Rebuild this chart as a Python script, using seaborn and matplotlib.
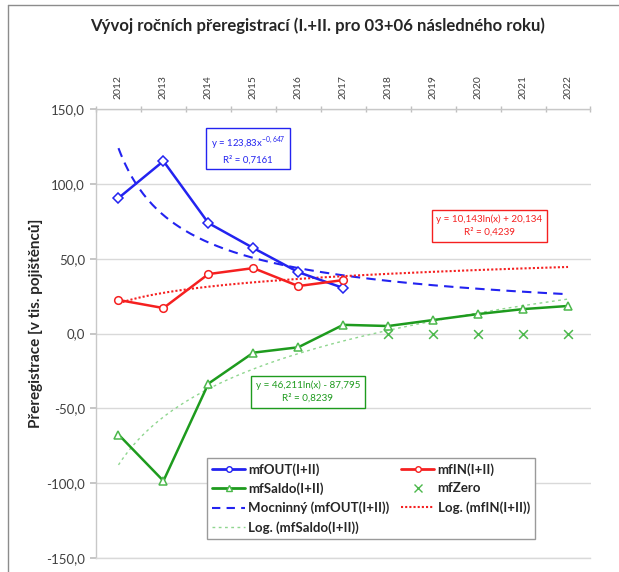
import numpy as np
import pandas as pd
import matplotlib
matplotlib.use("Agg")
import matplotlib.pyplot as plt
from matplotlib.lines import Line2D
from matplotlib.ticker import FixedLocator, FuncFormatter
import seaborn as sns

# data (thousands of insured persons)
years = [2012, 2013, 2014, 2015, 2016, 2017, 2018, 2019, 2020, 2021, 2022]
years_out = [2012, 2013, 2014, 2015, 2016, 2017]
mf_out = [90.5, 115.2, 73.8, 57.1, 41.0, 30.4]
mf_in = [22.4, 17.0, 39.7, 43.7, 31.7, 35.7]
mf_saldo = [-67.5, -98.5, -33.5, -12.8, -9.2, 5.8, 5.0, 9.0, 13.0, 16.3, 18.4]
years_zero = [2018, 2019, 2020, 2021, 2022]
mf_zero = [0, 0, 0, 0, 0]

# trendline coefficients as printed in the chart (x = 1..11)
power_out = [123.83, -0.647]
log_in = [10.143, 20.134]
log_saldo = [46.211, -87.795]

legend_labels = ["mfOUT(I+II)", "mfIN(I+II)", "mfSaldo(I+II)", "mfZero",
                 "Mocninný (mfOUT(I+II))", "Log. (mfIN(I+II))", "Log. (mfSaldo(I+II))"]

BLUE = "#2323f0"
RED = "#f52020"
GREEN = "#1e9b1e"
LGREEN = "#4cb84c"
TGREEN = "#8fd68f"

sns.set_theme(style="white")
plt.rcParams["font.family"] = ["Lato", "DejaVu Sans"]
plt.rcParams["mathtext.fontset"] = "custom"
plt.rcParams["mathtext.rm"] = "Lato"

W, H = 619, 572
fig = plt.figure(figsize=(W / 100, H / 100), dpi=100)
ax = fig.add_axes([96 / W, 1 - 558 / H, (590.5 - 96) / W, (558 - 109) / H])

# trendlines
t = np.linspace(1, 11, 200)
trend_years = 2011 + t
sns.lineplot(x=trend_years, y=power_out[0] * t ** power_out[1], color=BLUE, lw=1.5,
             linestyle=(0, (4.5, 3)), ax=ax, zorder=3)
sns.lineplot(x=trend_years, y=log_in[0] * np.log(t) + log_in[1], color=RED, lw=1.5,
             linestyle=(0, (1, 1)), ax=ax, zorder=3)
sns.lineplot(x=trend_years, y=log_saldo[0] * np.log(t) + log_saldo[1], color=TGREEN, lw=1.0,
             linestyle=(0, (2, 2.5)), ax=ax, zorder=3)

# data series
sns.lineplot(x=years_out, y=mf_out, color=BLUE, lw=1.8, marker="D", markersize=5,
             markerfacecolor="white", markeredgecolor=BLUE, markeredgewidth=1.1, ax=ax, zorder=4)
sns.lineplot(x=years_out, y=mf_in, color=RED, lw=1.8, marker="o", markersize=5.5,
             markerfacecolor="white", markeredgecolor=RED, markeredgewidth=1.1, ax=ax, zorder=4)
sns.lineplot(x=years, y=mf_saldo, color=GREEN, lw=1.8, marker="^", markersize=6,
             markerfacecolor="white", markeredgecolor=LGREEN, markeredgewidth=1.1, ax=ax, zorder=4)
sns.scatterplot(x=years_zero, y=mf_zero, color=LGREEN, marker="x", s=40, linewidth=1.1,
                ax=ax, zorder=5)

# axes
ax.set_xlim(2011.5, 2022.5)
ax.set_ylim(-150, 150)
ax.set_yticks(np.arange(-150, 151, 50))
ax.yaxis.set_major_formatter(FuncFormatter(lambda v, p: f"{v:.1f}".replace(".", ",")))
ax.xaxis.tick_top()
ax.set_xticks(years)
ax.set_xticklabels([str(y) for y in years], rotation=90)
ax.xaxis.set_minor_locator(FixedLocator(np.arange(2011.5, 2023, 1)))
ax.tick_params(axis="x", which="major", length=0, pad=7, labelsize=7.5, colors="#404040")
ax.tick_params(axis="x", which="minor", length=4, direction="inout", color="#bfbfbf", top=True, bottom=False)
ax.tick_params(axis="y", which="major", length=4, direction="out", color="#bfbfbf", left=True,
               labelsize=9.5, labelcolor="#404040", pad=4)
ax.grid(axis="y", color="#d9d9d9", lw=1)
ax.set_axisbelow(True)
ax.spines["right"].set_visible(False)
for s in ["left", "top", "bottom"]:
    ax.spines[s].set_color("#c8c8c8")
    ax.spines[s].set_linewidth(1)
ax.spines["bottom"].set_color("#d9d9d9")
ax.set_xlabel("")
ax.set_ylabel("")

fig.text(36 / W, 1 - 323 / H, "Přeregistrace [v tis. pojištěnců]", rotation=90, ha="center",
         va="center", fontsize=11, fontweight="bold", color="#262626")

fig.text(318 / W, 1 - 26 / H, "Vývoj ročních přeregistrací (I.+II. pro 03+06 následného roku)",
         ha="center", va="center", fontsize=12.1, fontweight="bold", color="#262626")

# trendline equation boxes
box = dict(boxstyle="square,pad=0.45", facecolor="white", lw=1)
fig.text(248 / W, 1 - 150 / H, "y = 123,83x$^{\\mathregular{-0,647}}$\nR² = 0,7161", ha="center",
         va="center", fontsize=6.9, color=BLUE, multialignment="center",
         bbox=dict(box, edgecolor=BLUE), linespacing=1.45)
fig.text(489 / W, 1 - 226 / H, "y = 10,143ln(x) + 20,134\nR² = 0,4239", ha="center",
         va="center", fontsize=7.1, color=RED, multialignment="center",
         bbox=dict(box, edgecolor=RED), linespacing=1.45)
fig.text(308 / W, 1 - 392 / H, "y = 46,211ln(x) - 87,795\nR² = 0,8239", ha="center",
         va="center", fontsize=7.1, color=GREEN, multialignment="center",
         bbox=dict(box, edgecolor=GREEN), linespacing=1.45)

# legend, row-major order like the original
h_out = Line2D([], [], color=BLUE, lw=2, marker="o", markersize=4, markerfacecolor="white")
h_in = Line2D([], [], color=RED, lw=2, marker="o", markersize=4, markerfacecolor="white")
h_saldo = Line2D([], [], color=GREEN, lw=2, marker="^", markersize=4, markerfacecolor="white",
                 markeredgecolor=LGREEN)
h_zero = Line2D([], [], color=LGREEN, lw=0, marker="x", markersize=6)
h_pow = Line2D([], [], color=BLUE, lw=1.5, linestyle=(0, (4, 3)))
h_lin = Line2D([], [], color=RED, lw=1.5, linestyle=(0, (1, 1)))
h_lsal = Line2D([], [], color=TGREEN, lw=1, linestyle=(0, (2, 2.5)))
handles = [h_out, h_saldo, h_pow, h_lsal, h_in, h_zero, h_lin]
labels = [legend_labels[i] for i in [0, 2, 4, 6, 1, 3, 5]]
leg = ax.legend(handles, labels, ncol=2, loc="upper left",
                bbox_to_anchor=((207 - 96) / (590.5 - 96), (558 - 458) / (558 - 109)),
                frameon=True, fancybox=False, edgecolor="#9a9a9a", framealpha=1,
                prop={"weight": "bold", "size": 9.5}, handlelength=2.5, handletextpad=0.25,
                columnspacing=0.9, labelspacing=0.5, borderpad=0.38, borderaxespad=0)
leg.get_frame().set_linewidth(1)
for txt in leg.get_texts():
    txt.set_color("#262626")

# outer chart frame (left/top edges visible)
fig.add_artist(Line2D([8 / W, 8 / W], [0, 1 - 5 / H], color="#8c8c8c", lw=1))
fig.add_artist(Line2D([8 / W, 1], [1 - 5 / H, 1 - 5 / H], color="#8c8c8c", lw=1))

fig.savefig("out.png", dpi=100)
